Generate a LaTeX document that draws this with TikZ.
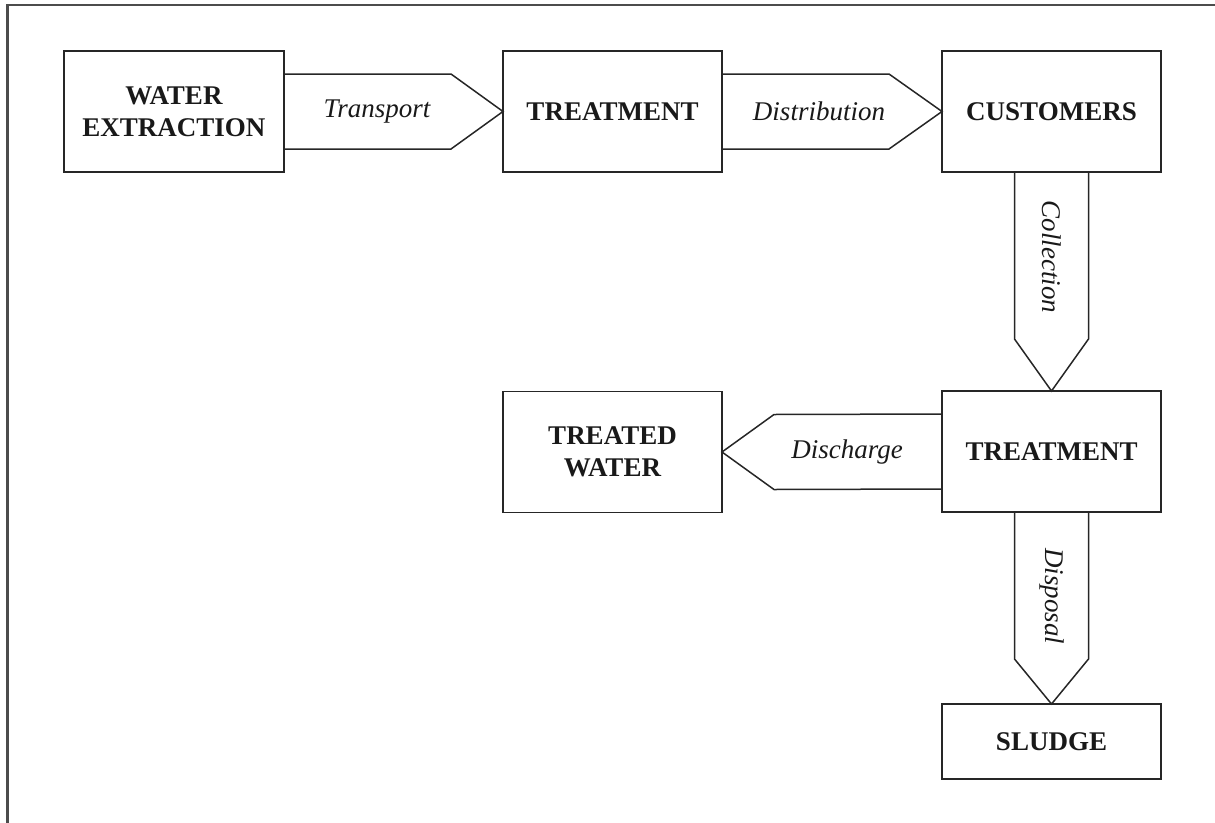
\documentclass[tikz,border=0pt]{standalone}
\usepackage{fontspec}
\setmainfont{Liberation Serif}
\usetikzlibrary{calc}
\begin{document}
\begin{tikzpicture}[x=1pt,y=-1pt,
  box/.style={draw=black!85,line width=1.5pt,rectangle,inner sep=0pt,outer sep=0pt,
    minimum width=219pt,minimum height=121pt,align=center,text=black!90,
    font=\fontsize{27}{32}\selectfont\bfseries},
  flow/.style={draw=black!85,line width=1.5pt,line join=miter},
  flowlabel/.style={inner sep=0pt,text=black!90,font=\fontsize{27}{32}\selectfont\itshape},
  frameline/.style={draw=black!70,line width=2.5pt}]
\useasboundingbox (0,0) rectangle (1215,822);
\draw[frameline] (1216,5) -- (7.5,5) -- (7.5,823);

\node[box,minimum width=220pt] (we) at (174,111.5) {WATER\\EXTRACTION};
\node[box] (tr1) at (612.5,111.5) {TREATMENT};
\node[box] (cu) at (1051.5,111.5) {CUSTOMERS};
\node[box] (tr2) at (1051.5,451.5) {TREATMENT};
\node[box] (tw) at (612.5,452) {TREATED\\WATER};
\node[box,minimum height=75pt] (sl) at (1051.5,741.5) {SLUDGE};

% Transport
\draw[flow] ($(we.east)+(0,-37.5)$) -- ($(tr1.west)+(-52,-37.5)$) -- (tr1.west)
  -- ($(tr1.west)+(-52,37.5)$) -- ($(we.east)+(0,37.5)$);
\node[flowlabel] (tl) at ($(we.east)+(93,0)$) {Transport};
% Distribution
\draw[flow] ($(tr1.east)+(0,-37.5)$) -- ($(cu.west)+(-53,-37.5)$) -- (cu.west)
  -- ($(cu.west)+(-53,37.5)$) -- ($(tr1.east)+(0,37.5)$);
\node[flowlabel] (dl) at ($(tr1.east)+(97,0)$) {Distribution};
% Collection
\draw[flow] ($(cu.south)+(-37,0)$) -- ($(tr2.north)+(-37,-52)$) -- (tr2.north)
  -- ($(tr2.north)+(37,-52)$) -- ($(cu.south)+(37,0)$);
\node[flowlabel,rotate=-90] (cl) at ($(cu.south)+(0,85)$) {Collection};
% Discharge
\draw[flow] ($(tr2.west)+(0,-37.5)$) -- ($(tw.east)+(52,-37.5)$) -- (tw.east)
  -- ($(tw.east)+(52,37.5)$) -- ($(tr2.west)+(0,37.5)$);
\node[flowlabel] (dcl) at ($(tr2.west)+(-95,0)$) {Discharge};
% Disposal
\draw[flow] ($(tr2.south)+(-37,0)$) -- ($(sl.north)+(-37,-45)$) -- (sl.north)
  -- ($(sl.north)+(37,-45)$) -- ($(tr2.south)+(37,0)$);
\node[flowlabel,rotate=-90] (dpl) at ($(tr2.south)+(0,84)$) {Disposal};
\end{tikzpicture}
\end{document}
